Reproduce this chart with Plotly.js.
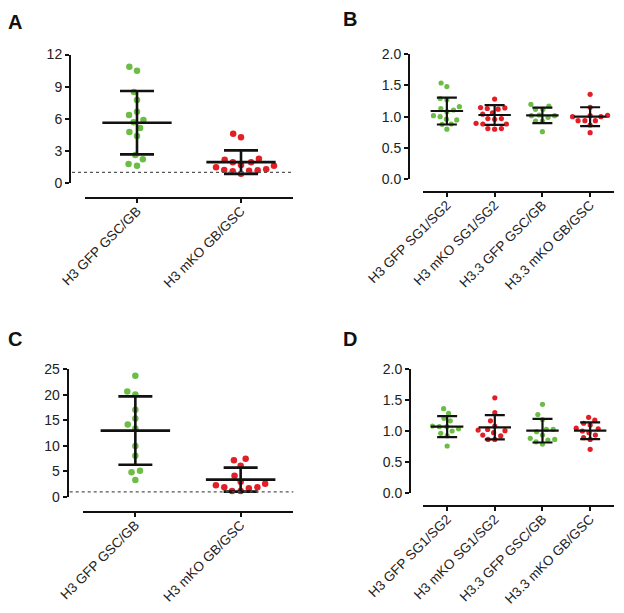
<!DOCTYPE html>
<html>
<head>
<meta charset="utf-8">
<script src="https://cdn.plot.ly/plotly-3.0.1.min.js"></script>
<style>html,body{margin:0;padding:0;background:#fff;}#chart{width:624px;height:613px;}</style>
</head>
<body>
<div id="chart"></div>
<script>
// ---------- data ----------
const catsAC = ["H3 GFP GSC/GB", "H3 mKO GB/GSC"];
const catsBD = ["H3 GFP SG1/SG2", "H3 mKO SG1/SG2", "H3.3 GFP GSC/GB", "H3.3 mKO GB/GSC"];

const A_green = [10.49, 10.86, 8.5, 7.75, 6.66, 5.88, 6.35, 5.67, 5.14, 4.76, 4.39, 2.61, 2.21, 1.62, 1.77];
const A_red   = [4.27, 4.6, 2.18, 1.93, 1.68, 1.93, 2.27, 1.46, 1.21, 1.15, 0.87, 1.09, 1.18, 1.28, 1.62];
const A_mean  = [5.63, 1.95];
const A_sd    = [2.96, 1.10];

const B_g1 = [1.537, 1.48, 1.29, 1.27, 1.16, 1.13, 1.106, 1.08, 1.016, 1.0, 0.96, 0.947, 0.883, 0.877, 0.8];
const B_r2 = [1.28, 1.14, 1.145, 1.12, 1.13, 1.06, 1.04, 0.97, 0.97, 0.957, 0.883, 0.883, 0.81, 0.8, 0.81, 0.894];
const B_g3 = [1.197, 1.17, 1.117, 1.117, 1.026, 1.016, 1.016, 0.99, 0.93, 0.93, 0.76];
const B_r4 = [1.357, 1.15, 1.016, 1.02, 0.999, 1.0, 0.936, 0.936, 0.936, 0.867, 0.744];
const B_mean = [1.09, 1.026, 1.02, 1.0];
const B_sd   = [0.215, 0.157, 0.123, 0.15];

const C_green = [23.73, 20.65, 20.06, 17.06, 15.36, 13.4, 14.18, 10.0, 8.1, 5.16, 4.84, 3.33];
const C_red   = [7.51, 7.19, 6.14, 4.18, 3.0, 2.61, 1.9, 1.7, 1.18, 1.18, 1.9, 2.29];
const C_mean  = [13.0, 3.4];
const C_sd    = [6.7, 2.35];

const D_g1 = [1.355, 1.28, 1.2, 1.16, 1.065, 1.076, 1.065, 0.995, 1.03, 0.958, 0.92, 0.753];
const D_r2 = [1.53, 1.29, 1.16, 1.076, 1.0, 1.02, 1.01, 0.93, 0.915, 0.968, 0.86, 0.86];
const D_g3 = [1.425, 1.26, 1.18, 1.02, 1.02, 0.985, 0.93, 0.877, 0.86, 0.85, 0.82, 0.785];
const D_r4 = [1.215, 1.17, 1.12, 1.09, 1.04, 1.03, 0.995, 0.968, 0.93, 0.887, 0.86, 0.7];
const D_mean = [1.065, 1.055, 1.0, 1.0];
const D_sd   = [0.17, 0.195, 0.19, 0.135];

const baseline = 1; // dotted reference line in A and C

// ---------- styling ----------
const W = 624, H = 613;
const GREEN = "#6cbd45", RED = "#e41e26";
const FONT = "Liberation Sans, Arial, sans-serif";

const panels = [
  {key: "A", xa: "x",  ya: "y",  cats: catsAC, groups: [A_green, A_red], colors: [GREEN, RED], mean: A_mean, sd: A_sd,
   xdom: [85/W, 293/W], ydom: [1-183/H, 1-54.5/H], ypos: 70/W, xpos: 1-198/H, yrange: [0, 12], tickvals: [0,3,6,9,12], fmt: "d",
   msize: 6.5, gap: 8.6, meanHalf: 0.333, capPx: 17, lw: 2.6, dotted: true, label: {x: 6/W, y: 1-22/H}},
  {key: "B", xa: "x2", ya: "y2", cats: catsBD, groups: [B_g1, B_r2, B_g3, B_r4], colors: [GREEN, RED, GREEN, RED], mean: B_mean, sd: B_sd,
   xdom: [423/W, 614/W], ydom: [1-179.3/H, 1-54/H], ypos: 409/W, xpos: 1-192/H, yrange: [0, 2], tickvals: [0,0.5,1,1.5,2], fmt: ".1f",
   msize: 5.2, gap: 6.8, meanHalf: 0.34, capPx: 10, lw: 2.2, dotted: false, label: {x: 341/W, y: 1-18.5/H}},
  {key: "C", xa: "x3", ya: "y3", cats: catsAC, groups: [C_green, C_red], colors: [GREEN, RED], mean: C_mean, sd: C_sd,
   xdom: [82.7/W, 293.3/W], ydom: [1-497/H, 1-369.3/H], ypos: 67.7/W, xpos: 1-512/H, yrange: [0, 25], tickvals: [0,5,10,15,20,25], fmt: "d",
   msize: 6.5, gap: 8.6, meanHalf: 0.33, capPx: 17, lw: 2.6, dotted: true, label: {x: 6/W, y: 1-338.7/H}},
  {key: "D", xa: "x4", ya: "y4", cats: catsBD, groups: [D_g1, D_r2, D_g3, D_r4], colors: [GREEN, RED, GREEN, RED], mean: D_mean, sd: D_sd,
   xdom: [423.3/W, 614/W], ydom: [1-492.7/H, 1-368.7/H], ypos: 410/W, xpos: 1-506/H, yrange: [0, 2], tickvals: [0,0.5,1,1.5,2], fmt: ".1f",
   msize: 5.2, gap: 6.8, meanHalf: 0.34, capPx: 10, lw: 2.2, dotted: false, label: {x: 341/W, y: 1-338.7/H}}
];

// deterministic beeswarm: spread points horizontally so markers do not overlap (pixel space)
function swarm(ys, pxPerY, D) {
  const idx = ys.map((v, i) => i).sort((a, b) => ys[a] - ys[b]);
  const placed = [], off = new Array(ys.length).fill(0);
  for (const i of idx) {
    const y = ys[i] * pxPerY;
    const cands = [0];
    for (const p of placed) {
      const dy = Math.abs(p.y - y);
      if (dy < D) { const dx = Math.sqrt(D*D - dy*dy); cands.push(p.x + dx, p.x - dx); }
    }
    cands.sort((a, b) => Math.abs(a) - Math.abs(b) || a - b);
    let best = 0;
    for (const c of cands) {
      if (placed.every(p => Math.hypot(p.x - c, p.y - y) >= D - 1e-6)) { best = c; break; }
    }
    placed.push({x: best, y: y});
    off[i] = best;
  }
  return off;
}

const traces = [];
const layout = {
  width: W, height: H, margin: {l: 0, r: 0, t: 0, b: 0},
  paper_bgcolor: "#fff", plot_bgcolor: "rgba(0,0,0,0)",
  showlegend: false, font: {family: FONT, color: "#222", size: 13.5},
  shapes: [], annotations: []
};

panels.forEach(p => {
  const xName = p.xa === "x" ? "xaxis" : "xaxis" + p.xa.slice(1);
  const yName = p.ya === "y" ? "yaxis" : "yaxis" + p.ya.slice(1);
  const nCat = p.cats.length;
  const xrange = [-0.5, nCat - 0.5];
  const pxPerX = (p.xdom[1] - p.xdom[0]) * W / (xrange[1] - xrange[0]);
  const pxPerY = (p.ydom[1] - p.ydom[0]) * H / (p.yrange[1] - p.yrange[0]);

  layout[xName] = {
    domain: p.xdom, anchor: "free", position: p.xpos, range: xrange, fixedrange: true,
    showline: true, linecolor: "#111", linewidth: 2, ticks: "outside", ticklen: 4, tickwidth: 2, tickcolor: "#111",
    tickvals: p.cats.map((c, i) => i), ticktext: p.cats, tickangle: -45, ticklabelstandoff: -5,
    tickfont: {family: FONT, size: 13.5, color: "#222"}, showgrid: false, zeroline: false
  };
  layout[yName] = {
    domain: p.ydom, anchor: "free", position: p.ypos, range: p.yrange, fixedrange: true,
    showline: true, linecolor: "#111", linewidth: 2, ticks: "outside", ticklen: 4, tickwidth: 2, tickcolor: "#111",
    tickvals: p.tickvals, tickformat: p.fmt,
    tickfont: {family: FONT, size: 14, color: "#222"}, showgrid: false, zeroline: false
  };

  // points
  p.groups.forEach((g, i) => {
    const off = swarm(g, pxPerY, p.gap);
    traces.push({
      type: "scatter", mode: "markers", xaxis: p.xa, yaxis: p.ya,
      x: off.map(o => i + o / pxPerX), y: g,
      marker: {color: p.colors[i], size: p.msize, line: {width: 0}},
      hoverinfo: "y", cliponaxis: false
    });
  });

  // mean line + SD whiskers
  traces.push({
    type: "scatter", mode: "markers", xaxis: p.xa, yaxis: p.ya,
    x: p.mean.map((m, i) => i), y: p.mean,
    marker: {size: 1, opacity: 0},
    error_y: {type: "data", array: p.sd, visible: true, width: p.capPx, thickness: p.lw, color: "#111"},
    error_x: {type: "data", array: p.mean.map(() => p.meanHalf), visible: true, width: 0, thickness: p.lw, color: "#111"},
    hoverinfo: "skip", cliponaxis: false
  });

  if (p.dotted) {
    layout.shapes.push({
      type: "line", xref: "paper", yref: p.ya, x0: p.ypos + 2/W, x1: p.xdom[1], y0: baseline, y1: baseline,
      line: {color: "#555", width: 1.3, dash: "dot"}
    });
  }

  layout.annotations.push({
    text: "<b>" + p.key + "</b>", xref: "paper", yref: "paper", x: p.label.x, y: p.label.y,
    xanchor: "left", yanchor: "middle", showarrow: false,
    font: {family: FONT, size: 20, color: "#111"}
  });
});

Plotly.newPlot("chart", traces, layout, {staticPlot: true, displayModeBar: false});
</script>
</body>
</html>
